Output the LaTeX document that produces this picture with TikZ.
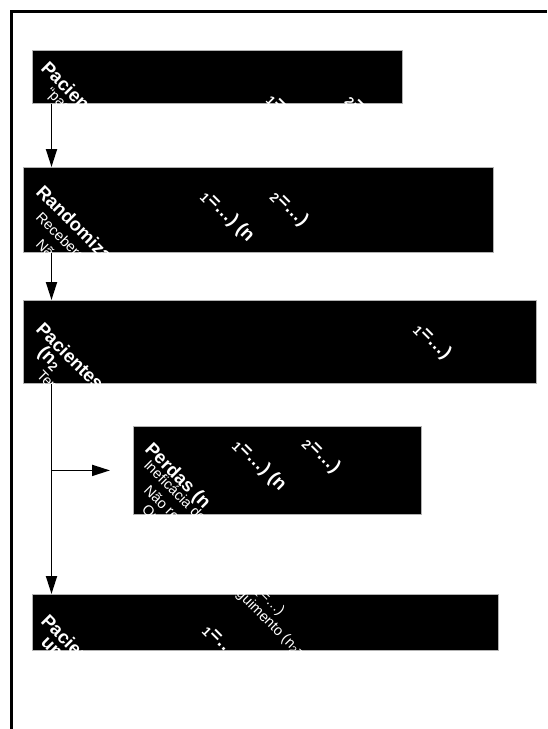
\documentclass[tikz,border=0pt]{standalone}
\usepackage{fontspec}
\setmainfont{Liberation Sans}
\usetikzlibrary{arrows.meta}
\begin{document}
\begin{tikzpicture}[x=1pt,y=-1pt,
  box/.style={draw=gray!60,fill=black,line width=0.8pt,anchor=north west,inner sep=0pt},
  title/.style={text=white,rotate=-45,anchor=base west,inner sep=0pt,font=\fontsize{18.5}{21}\selectfont\bfseries},
  body/.style={text=white,rotate=-45,anchor=base west,inner sep=0pt,font=\fontsize{14.5}{17}\selectfont},
  arr/.style={line width=1.8pt,-{Triangle[length=18pt,width=11pt]}}
]
\useasboundingbox (0,0) rectangle (547,729);
\draw[line width=3pt] (11.5,729) -- (11.5,11.5) -- (547,11.5);
\coordinate (sp) at (51.5,0);

\node[box,minimum width=370pt,minimum height=53pt] (b1) at (32,50) {};
\node[box,minimum width=470pt,minimum height=85pt] (b2) at (23,167) {};
\node[box,minimum width=513pt,minimum height=83pt] (b3) at (23,300) {};
\node[box,minimum width=288pt,minimum height=88pt] (b4) at (133,426) {};
\node[box,minimum width=466pt,minimum height=56pt] (b5) at (32,594) {};

\begin{scope}
\clip (b1.north west) rectangle (b1.south east);
\node[title] (t1a) at (40,69) {Pacientes elegíveis};
\node[body] (t1b) at (45,93) {“pacientes};
\node[title] (t1c) at (267,99) {\textsubscript{1}=…) (n};
\node[title] (t1d) at (346,100) {\textsubscript{2}=…)};
\end{scope}

\begin{scope}
\clip (b2.north west) rectangle (b2.south east);
\node[title] (t2a) at (35,193) {Randomização};
\node[body] (t2b) at (35,218) {Receberam};
\node[body] (t2c) at (35,245) {Não receberam};
\node[title] (t2d) at (201,196) {\textsubscript{1}=…) (n};
\node[title] (t2e) at (271,196) {\textsubscript{2}=…)};
\end{scope}

\begin{scope}
\clip (b3.north west) rectangle (b3.south east);
\node[title] (t3a) at (35,330) {Pacientes};
\node[title] (t3b) at (37,353) {(n\textsubscript{2}};
\node[body] (t3c) at (36,376) {Tempo};
\node[title] (t3d) at (414,329) {\textsubscript{1}=…)};
\end{scope}

\begin{scope}
\clip (b4.north west) rectangle (b4.south east);
\node[title] (t4a) at (144,450) {Perdas (n};
\node[body] (t4b) at (143,466) {Ineficácia do};
\node[body] (t4c) at (143,491) {Não retornaram};
\node[body] (t4d) at (141,510) {Outros};
\node[title] (t4e) at (233,445) {\textsubscript{1}=…) (n};
\node[title] (t4f) at (303,443) {\textsubscript{2}=…)};
\end{scope}

\begin{scope}
\clip (b5.north west) rectangle (b5.south east);
\node[title] (t5a) at (40,622) {Pacientes};
\node[title] (t5b) at (40,643) {um};
\node[title] (t5c) at (203,630) {\textsubscript{1}=…};
\node[body] (t5d) at (225,584) {seguimento (n\textsubscript{2}=…)};
\node[body] (t5e) at (246,583) {(n\textsubscript{1}=…)};
\end{scope}

\draw[arr] (b1.south -| sp) -- (b2.north -| sp);
\draw[arr] (b2.south -| sp) -- (b3.north -| sp);
\draw[arr] (b3.south -| sp) -- (b5.north -| sp);
\draw[arr,shorten >=23pt] (sp |- b4.west) -- (b4.west);
\end{tikzpicture}
\end{document}
